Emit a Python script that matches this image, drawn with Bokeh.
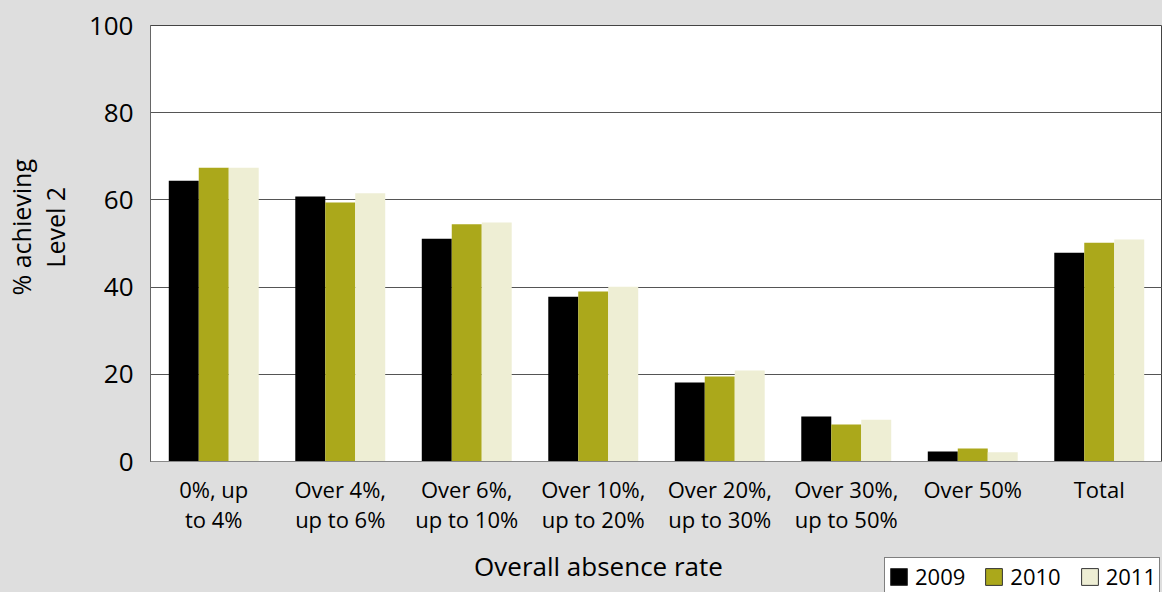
from bokeh.plotting import figure
from bokeh.models import (ColumnDataSource, FactorRange, Range1d, FixedTicker,
                          Label, Legend, LegendItem)
from bokeh.layouts import column
from bokeh.transform import dodge
from bokeh.embed import file_html
from bokeh.resources import INLINE

categories = ["0%, up\nto 4%", "Over 4%,\nup to 6%", "Over 6%,\nup to 10%",
              "Over 10%,\nup to 20%", "Over 20%,\nup to 30%", "Over 30%,\nup to 50%",
              "Over 50%", "Total"]
v2009 = [64.4, 60.8, 51.1, 37.8, 18.1, 10.3, 2.3, 47.9]
v2010 = [67.4, 59.4, 54.4, 39.0, 19.5, 8.5, 3.0, 50.2]
v2011 = [67.4, 61.5, 54.8, 40.1, 20.9, 9.6, 2.1, 50.9]
years = ["2009", "2010", "2011"]
y_ticks = [0, 20, 40, 60, 80, 100]

colors = ["#000000", "#aba81b", "#eeeed4"]
BG = "#dedede"
FONT = "Open Sans"
NB = "\u00a0" * 5

src = ColumnDataSource(dict(cat=categories, y2009=v2009, y2010=v2010, y2011=v2011))

# ---- main chart ----
p = figure(width=1162, height=545, x_range=FactorRange(*categories, range_padding=0),
           y_range=Range1d(0, 100), output_backend="svg", toolbar_location=None,
           min_border_left=150, min_border_right=0, min_border_top=25, min_border_bottom=84)

p.background_fill_color = "white"
p.border_fill_color = BG
p.outline_line_color = "#444444"
p.outline_line_width = 1

bw = 0.237
for i, (col, c) in enumerate(zip(["y2009", "y2010", "y2011"], colors)):
    p.vbar(x=dodge("cat", (i - 1) * bw, range=p.x_range), top=col, width=bw,
           source=src, fill_color=c, line_color=None)

p.xgrid.grid_line_color = None
p.ygrid.grid_line_color = "#555555"
p.ygrid.grid_line_width = 1

p.yaxis.ticker = FixedTicker(ticks=y_ticks)
p.yaxis.major_label_text_font = FONT
p.yaxis.major_label_text_font_size = "26px"
p.yaxis.major_label_text_color = "black"
p.yaxis.major_label_standoff = 11
p.yaxis.major_tick_line_color = None
p.yaxis.minor_tick_line_color = None
p.yaxis.axis_line_color = "#666666"
p.yaxis.axis_label = NB + "% achieving\n" + NB + "Level 2"
p.yaxis.axis_label_text_font = FONT
p.yaxis.axis_label_text_font_size = "25px"
p.yaxis.axis_label_text_font_style = "normal"
p.yaxis.axis_label_text_color = "black"
p.yaxis.axis_label_text_line_height = 1.0
p.yaxis.axis_label_standoff = 14

p.xaxis.major_label_text_font = FONT
p.xaxis.major_label_text_font_size = "22px"
p.xaxis.major_label_text_color = "black"
p.xaxis.major_label_text_line_height = 1.0
p.xaxis.major_label_standoff = 6
p.xaxis.major_tick_line_color = None
p.xaxis.axis_line_color = "#888888"

# ---- strip below: axis title + legend ----
p2 = figure(width=1162, height=47, x_range=Range1d(150, 1162), y_range=Range1d(0, 47),
            output_backend="svg", toolbar_location=None, min_border=0,
            min_border_left=150, min_border_right=0, min_border_top=0, min_border_bottom=0)
p2.axis.visible = False
p2.grid.visible = False
p2.outline_line_color = None
p2.background_fill_color = BG
p2.border_fill_color = BG

p2.add_layout(Label(x=598, y=27, text="Overall absence rate", text_align="center",
                    text_baseline="middle", text_font=FONT, text_font_size="26px",
                    text_color="black"))

swatches = []
for col, c in zip(["y2009", "y2010", "y2011"], colors):
    r = p2.vbar(x=col, top=col, width=1, source=src, fill_color=c, line_color="#333333")
    r.visible = False
    swatches.append(r)

legend = Legend(items=[LegendItem(label=y, renderers=[r]) for y, r in zip(years, swatches)],
                location=(734, -3), orientation="horizontal",
                glyph_width=21, glyph_height=21, label_standoff=6, spacing=18,
                padding=3, margin=0, border_line_color="black", border_line_width=1,
                background_fill_color="white", background_fill_alpha=1,
                inactive_fill_alpha=0,
                label_text_font=FONT, label_text_font_size="22px", label_text_color="black")
p2.add_layout(legend)

layout = column(p, p2, spacing=0, styles={"background-color": BG})
open("out.html", "w").write(file_html(layout, INLINE))
